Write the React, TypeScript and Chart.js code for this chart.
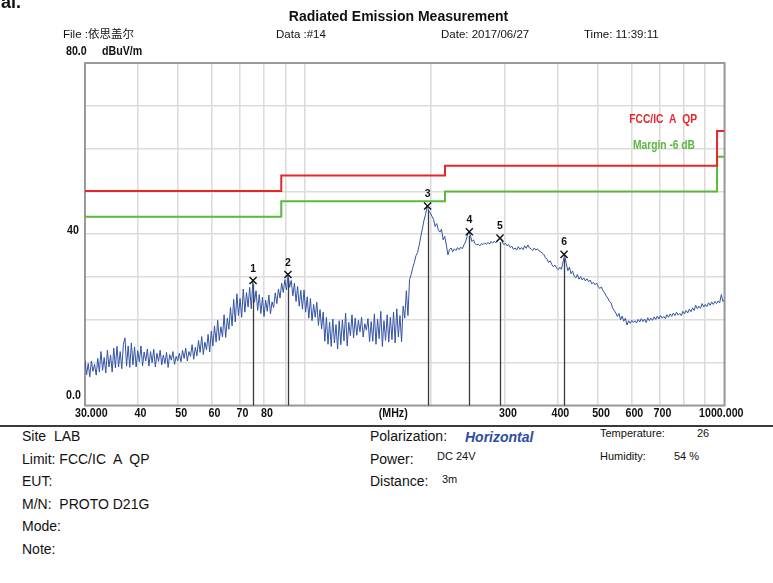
import React, { useEffect, useRef } from "react";
import { Chart, registerables } from "chart.js";

Chart.register(...registerables);

// Sweep: 401 points, evenly spaced on the log-frequency axis from 30 MHz to 1000 MHz
const FREQ_START = 30;
const FREQ_STOP = 1000;

const traceLevels = [
  10.6, 7.2, 9.8, 6.7, 10.4, 8.0, 9.6, 7.1, 11.0, 7.8,
  12.6, 8.2, 11.2, 7.6, 12.9, 9.0, 11.8, 7.8, 13.4, 8.8,
  13.8, 9.0, 12.6, 8.6, 14.2, 15.8, 9.2, 13.9, 8.9, 14.6,
  9.5, 13.7, 9.0, 12.8, 10.2, 13.9, 9.3, 12.5, 10.4, 13.2,
  9.2, 12.6, 10.0, 13.1, 9.0, 12.2, 10.3, 12.9, 9.5, 11.8,
  9.8, 12.4, 8.9, 11.9, 10.6, 12.6, 9.6, 11.5, 10.4, 12.2,
  10.2, 12.9, 11.0, 13.4, 10.4, 12.6, 11.5, 14.2, 10.8, 13.6,
  11.6, 15.2, 12.4, 16.1, 11.9, 14.8, 13.0, 16.6, 12.5, 17.4,
  13.9, 18.6, 14.8, 19.9, 15.2, 18.4, 16.0, 21.2, 15.9, 20.4,
  17.8, 22.9, 18.6, 24.8, 19.5, 26.1, 21.0, 25.0, 20.6, 27.2,
  21.8, 26.4, 23.0, 27.6, 22.6, 29.0, 24.1, 26.8, 22.2, 25.9,
  21.5, 25.3, 20.8, 24.6, 22.0, 25.8, 21.4, 24.2, 22.9, 26.3,
  23.8, 27.2, 25.1, 28.6, 26.4, 29.4, 27.0, 30.4, 27.6, 29.2,
  25.6, 28.6, 24.3, 27.8, 23.2, 26.9, 22.5, 27.0, 21.8, 25.4,
  20.4, 25.0, 19.8, 23.6, 20.6, 24.1, 18.7, 22.4, 17.9, 21.8,
  15.0, 20.6, 14.3, 19.5, 13.8, 20.2, 14.6, 18.9, 13.2, 19.8,
  14.2, 20.0, 15.1, 21.6, 13.9, 19.4, 16.3, 21.2, 15.8, 20.4,
  16.4, 19.9, 17.2, 20.6, 16.0, 19.1, 17.6, 20.3, 14.9, 19.6,
  15.0, 21.4, 14.3, 20.2, 15.6, 22.0, 13.8, 19.8, 15.2, 21.2,
  14.8, 20.6, 15.4, 21.8, 14.6, 22.6, 16.0, 21.0, 14.9, 23.2,
  20.4, 26.8, 21.0, 29.4, 30.6, 32.2, 33.4, 35.0, 35.7, 37.4,
  39.4, 41.2, 43.2, 44.6, 46.6, 45.5, 45.0, 44.2, 43.5, 41.8,
  42.5, 41.0, 40.5, 41.2, 38.7, 39.5, 37.5, 35.2, 36.4, 36.8,
  35.9, 36.6, 36.2, 36.9, 36.4, 37.0, 36.6, 37.5, 38.2, 39.5,
  40.6, 39.8, 38.3, 38.7, 37.8, 37.5, 37.7, 37.3, 37.8, 37.6,
  38.0, 37.6, 38.1, 37.7, 38.3, 37.9, 38.4, 38.0, 38.6, 38.9,
  39.1, 38.2, 37.6, 37.9, 37.3, 37.6, 36.9, 37.2, 36.5, 36.8,
  36.3, 37.1, 36.5, 36.9, 36.4, 37.3, 36.7, 37.5, 36.8, 36.6,
  36.2, 36.8, 36.3, 36.6, 36.1, 35.9, 35.6, 35.3, 34.5, 34.2,
  33.4, 33.8, 32.9, 32.4, 32.8, 32.1, 31.7, 32.3, 31.8, 33.5,
  35.1, 33.2, 31.5, 32.3, 30.8, 31.4, 30.2, 29.8, 30.6, 29.5,
  30.1, 29.3, 29.8, 29.1, 29.6, 28.9, 29.3, 28.4, 28.8, 28.2,
  28.6, 27.8, 27.3, 27.7, 26.8, 26.3, 25.6, 25.1, 24.3, 24.0,
  22.8, 22.2, 21.6, 20.8, 21.5, 20.0, 20.9, 19.7, 20.4, 18.8,
  19.8, 19.2, 19.9, 19.4, 19.8, 19.3, 20.1, 19.5, 20.3, 19.6,
  20.2, 19.4, 20.5, 19.8, 20.4, 19.9, 20.7, 20.1, 20.9, 20.2,
  21.0, 20.4, 20.8, 20.3, 21.2, 20.6, 21.4, 20.8, 21.6, 21.0,
  21.8, 21.1, 21.5, 21.0, 22.0, 21.4, 22.2, 21.6, 22.5, 21.9,
  22.8, 22.2, 23.4, 22.6, 23.2, 22.7, 23.8, 23.0, 23.6, 23.1,
  24.0, 23.4, 24.2, 23.6, 24.3, 23.8, 24.4, 24.0, 25.9, 24.3,
  24.6,
];

// Limit line FCC/IC A QP (stepped): band edges (MHz) and level per band (dBuV/m)
const limitEdges = [30, 88, 216, 960, 1000];
const limitLevels = [50.1, 53.7, 56.0, 64.1];
const marginDb = 6;

// Peak markers
const markerNos = ["1", "2", "3", "4", "5", "6"];
const markerFreqs = [75.4, 91.3, 196.3, 246.8, 292.0, 414.9];
const markerLevels = [29.2, 30.6, 46.6, 40.6, 39.1, 35.3];

// Axis ticks
const xTickValues = [30, 40, 50, 60, 70, 80, 90, 100, 200, 300, 400, 500, 600, 700, 800, 900, 1000];
const xTickLabels = ["30.000", "40", "50", "60", "70", "80", "", "", "", "300", "400", "500", "600", "700", "", "", "1000.000"];
const yMin = 0;
const yMax = 80;
const yStep = 10;

const FONT = '"Liberation Sans", Arial, "Noto Sans CJK SC", sans-serif';

function narrowText(ctx: CanvasRenderingContext2D, text: string, x: number, y: number, align: CanvasTextAlign, sx = 0.82) {
  ctx.save();
  ctx.translate(x, y);
  ctx.scale(sx, 1);
  ctx.textAlign = align;
  ctx.fillText(text, 0, 0);
  ctx.restore();
}

const decorPlugin = {
  id: "emiDecor",
  beforeDatasetsDraw(chart: any) {
    const { ctx, chartArea } = chart;
    const xs = chart.scales.x;
    const ys = chart.scales.y;
    ctx.save();
    // frame
    ctx.strokeStyle = "#9a9a9a";
    ctx.lineWidth = 2;
    ctx.strokeRect(chartArea.left, chartArea.top, chartArea.right - chartArea.left, chartArea.bottom - chartArea.top);
    // marker drop lines
    ctx.strokeStyle = "#3a3a3a";
    ctx.lineWidth = 1.3;
    markerFreqs.forEach((f, i) => {
      const px = Math.round(xs.getPixelForValue(f)) + 0.5;
      ctx.beginPath();
      ctx.moveTo(px, ys.getPixelForValue(markerLevels[i]) + 4);
      ctx.lineTo(px, ys.getPixelForValue(yMin));
      ctx.stroke();
    });
    ctx.restore();
  },
  afterDatasetsDraw(chart: any) {
    const { ctx, chartArea } = chart;
    const xs = chart.scales.x;
    const ys = chart.scales.y;
    ctx.save();
    ctx.textBaseline = "middle";
    // marker numbers
    ctx.fillStyle = "#111";
    ctx.font = `bold 11px ${FONT}`;
    markerFreqs.forEach((f, i) => {
      narrowText(ctx, markerNos[i], xs.getPixelForValue(f), ys.getPixelForValue(markerLevels[i]) - 12, "center", 0.95);
    });
    // x tick labels
    ctx.font = `bold 13px ${FONT}`;
    ctx.fillStyle = "#111";
    const ty = chartArea.bottom + 8;
    xTickValues.forEach((v, i) => {
      const lab = xTickLabels[i];
      if (!lab) return;
      const px = xs.getPixelForValue(v);
      if (i === 0) narrowText(ctx, lab, px - 10, ty, "left");
      else if (i === xTickValues.length - 1) narrowText(ctx, lab, px + 19, ty, "right");
      else narrowText(ctx, lab, px + 3, ty, "center");
    });
    narrowText(ctx, "(MHz)", chartArea.left + 0.482 * (chartArea.right - chartArea.left), ty, "center");
    // y labels
    narrowText(ctx, "80.0", 66, ys.getPixelForValue(yMax) - 12, "left");
    narrowText(ctx, "dBuV/m", 102, ys.getPixelForValue(yMax) - 12, "left");
    narrowText(ctx, "40", 67, ys.getPixelForValue(40) - 3.5, "left");
    narrowText(ctx, "0.0", 66, ys.getPixelForValue(yMin) - 10.5, "left");
    // legend texts
    ctx.font = `bold 12.5px ${FONT}`;
    ctx.fillStyle = "#e8262a";
    narrowText(ctx, "FCC/IC  A  QP", 697, 120, "right");
    ctx.fillStyle = "#5cb83c";
    narrowText(ctx, "Margin -6 dB", 695, 146, "right");
    ctx.restore();
  },
};

function buildStep(levels: number[], offset: number) {
  const pts: { x: number; y: number }[] = [];
  levels.forEach((lv, k) => {
    pts.push({ x: limitEdges[k], y: lv - offset });
    pts.push({ x: limitEdges[k + 1], y: lv - offset });
  });
  return pts;
}

function T(props: { x: number; y: number; size: number; text: string; bold?: boolean; italic?: boolean; color?: string; center?: boolean }) {
  const { x, y, size, text, bold, italic, color, center } = props;
  const style: React.CSSProperties = {
    position: "absolute",
    top: y - 0.49 * size,
    left: center ? undefined : x,
    fontSize: size,
    lineHeight: `${size}px`,
    fontWeight: bold ? "bold" : "normal",
    fontStyle: italic ? "italic" : "normal",
    color: color || "#111",
    whiteSpace: "pre",
    fontFamily: FONT,
  };
  if (center) {
    style.left = x;
    style.transform = "translateX(-50%)";
  }
  return <div style={style}>{text}</div>;
}

export default function App() {
  const canvasRef = useRef<HTMLCanvasElement | null>(null);

  useEffect(() => {
    if (!canvasRef.current) return;
    const n = traceLevels.length;
    const traceData = traceLevels.map((y, i) => ({
      x: FREQ_START * Math.pow(FREQ_STOP / FREQ_START, i / (n - 1)),
      y,
    }));
    const markerData = markerFreqs.map((f, i) => ({ x: f, y: markerLevels[i] }));
    const chart = new Chart(canvasRef.current, {
      type: "line",
      data: {
        datasets: [
          {
            label: "markers",
            data: markerData,
            showLine: false,
            pointStyle: "crossRot",
            pointRadius: 5,
            pointBorderWidth: 1.4,
            pointBorderColor: "#111",
            pointBackgroundColor: "#111",
            borderColor: "#111",
          },
          {
            label: "trace",
            data: traceData,
            borderColor: "#3353a4",
            borderWidth: 1,
            pointRadius: 0,
            tension: 0,
          },
          {
            label: "FCC/IC A QP",
            data: buildStep(limitLevels, 0),
            borderColor: "#e8262a",
            borderWidth: 2,
            pointRadius: 0,
            tension: 0,
          },
          {
            label: "Margin -6 dB",
            data: buildStep(limitLevels, marginDb),
            borderColor: "#5cb83c",
            borderWidth: 2,
            pointRadius: 0,
            tension: 0,
          },
        ],
      },
      options: {
        animation: false,
        responsive: false,
        devicePixelRatio: 1,
        parsing: false as any,
        normalized: true,
        layout: { padding: { left: 85, right: 48.5, top: 63, bottom: 14.5 } },
        plugins: { legend: { display: false }, tooltip: { enabled: false } },
        scales: {
          x: {
            type: "logarithmic",
            min: FREQ_START,
            max: FREQ_STOP,
            ticks: { display: false },
            grid: { color: "#dcdcdc", lineWidth: 1.6, drawTicks: false },
            border: { display: false },
            afterBuildTicks: (s: any) => {
              s.ticks = xTickValues.map((v) => ({ value: v }));
            },
            afterFit: (s: any) => {
              s.height = 0;
            },
          } as any,
          y: {
            type: "linear",
            min: yMin,
            max: yMax,
            ticks: { display: false, stepSize: yStep },
            grid: { color: "#dcdcdc", lineWidth: 1.6, drawTicks: false },
            border: { display: false },
            afterFit: (s: any) => {
              s.width = 0;
            },
          } as any,
        },
      },
      plugins: [decorPlugin],
    });
    return () => chart.destroy();
  }, []);

  return (
    <div style={{ position: "fixed", left: 0, top: 0, width: 773, height: 583, background: "#fff", overflow: "hidden", fontFamily: FONT }}>
      <canvas ref={canvasRef} width={773} height={420} style={{ position: "absolute", left: 0, top: 0, width: 773, height: 420 }} />
      <div style={{ position: "absolute", left: 1, top: -7, fontSize: 18, lineHeight: "18px", fontWeight: "bold", fontFamily: FONT, color: "#111" }}>al.</div>
      <T x={398.5} y={16} size={14} bold center text="Radiated Emission Measurement" />
      <T x={63} y={35} size={11.5} text="File :依思盖尔" />
      <T x={276} y={35} size={11.5} text="Data :#14" />
      <T x={441} y={35} size={11.5} text="Date: 2017/06/27" />
      <T x={584} y={35} size={11.5} text="Time: 11:39:11" />
      <div style={{ position: "absolute", left: 0, top: 425, width: 773, height: 2, background: "#3a3a3a" }} />
      <T x={22} y={436} size={14} text="Site  LAB" />
      <T x={22} y={459} size={14} text="Limit: FCC/IC  A  QP" />
      <T x={22} y={481} size={14} text="EUT:" />
      <T x={22} y={504} size={14} text="M/N:  PROTO D21G" />
      <T x={22} y={526} size={14} text="Mode:" />
      <T x={22} y={549} size={14} text="Note:" />
      <T x={370} y={436} size={14} text="Polarization:" />
      <T x={465} y={437} size={14} bold italic color="#2d4ea0" text="Horizontal" />
      <T x={370} y={459} size={14} text="Power:" />
      <T x={437} y={456} size={11} text="DC 24V" />
      <T x={370} y={481} size={14} text="Distance:" />
      <T x={442} y={479} size={11} text="3m" />
      <T x={600} y={433} size={11} text="Temperature:" />
      <T x={697} y={433} size={11} text="26" />
      <T x={600} y={456} size={11} text="Humidity:" />
      <T x={674} y={456} size={11} text="54 %" />
    </div>
  );
}
